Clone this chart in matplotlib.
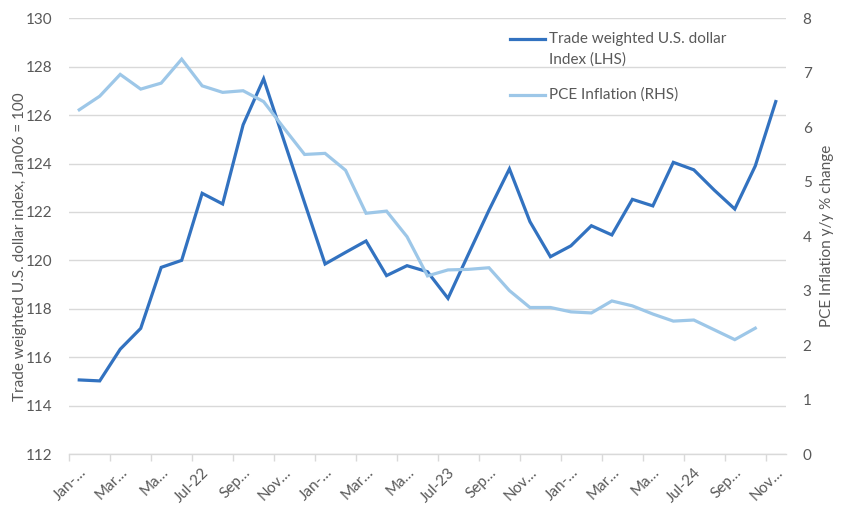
import matplotlib
matplotlib.use("Agg")
import matplotlib.pyplot as plt
from matplotlib.lines import Line2D
import numpy as np

plt.rcParams['font.family'] = ['Lato', 'DejaVu Sans']

months = ["Jan-22", "Feb-22", "Mar-22", "Apr-22", "May-22", "Jun-22", "Jul-22", "Aug-22",
          "Sep-22", "Oct-22", "Nov-22", "Dec-22", "Jan-23", "Feb-23", "Mar-23", "Apr-23",
          "May-23", "Jun-23", "Jul-23", "Aug-23", "Sep-23", "Oct-23", "Nov-23", "Dec-23",
          "Jan-24", "Feb-24", "Mar-24", "Apr-24", "May-24", "Jun-24", "Jul-24", "Aug-24",
          "Sep-24", "Oct-24", "Nov-24"]

dollar_index = [115.06, 115.02, 116.33, 117.19, 119.71, 120.0, 122.77, 122.33,
                125.6, 127.5, 124.93, 122.38, 119.85, 120.33, 120.8, 119.37,
                119.78, 119.53, 118.43, 120.26, 122.07, 123.78, 121.6, 120.15,
                120.6, 121.43, 121.05, 122.52, 122.25, 124.05, 123.74, 122.9,
                122.12, 123.9, 126.56]

pce_inflation = [6.32, 6.57, 6.97, 6.70, 6.81, 7.25, 6.76, 6.64,
                 6.67, 6.47, 5.98, 5.50, 5.52, 5.21, 4.42, 4.46,
                 3.99, 3.27, 3.38, 3.39, 3.42, 3.00, 2.69, 2.69,
                 2.61, 2.59, 2.81, 2.72, 2.57, 2.44, 2.46, 2.28,
                 2.10, 2.31]

tick_labels = ["Jan-…", "Mar…", "Ma…", "Jul-22", "Sep…", "Nov…",
               "Jan-…", "Mar…", "Ma…", "Jul-23", "Sep…", "Nov…",
               "Jan-…", "Mar…", "Ma…", "Jul-24", "Sep…", "Nov…"]

dark = "#3272C0"
light = "#9DC7E8"
txt = "#595959"
grid = "#D9D9D9"

fig = plt.figure(figsize=(8.43, 5.18), dpi=100)
ax = fig.add_axes([69/843, 1-454/518, (786-69)/843, (454-18.3)/518])
ax2 = ax.twinx()

x = np.arange(len(months))
ax.plot(x, dollar_index, color=dark, lw=2.3, solid_joinstyle='miter', zorder=3)
ax2.plot(np.arange(len(pce_inflation)), pce_inflation, color=light, lw=2.3,
         solid_joinstyle='miter', zorder=3)

ax.set_xlim(-0.5, len(months)-0.5)
ax.set_ylim(112, 130)
ax.set_yticks(np.arange(112, 131, 2))
ax2.set_ylim(0, 8)
ax2.set_yticks(np.arange(0, 9, 1))

ax.yaxis.grid(True, color=grid, lw=1.0)
ax.set_axisbelow(True)

for a in (ax, ax2):
    for s in a.spines.values():
        s.set_visible(False)
ax.spines['bottom'].set_visible(True)
ax.spines['bottom'].set_color(grid)
ax.spines['bottom'].set_linewidth(1.0)

# x ticks: labels at every other month centre, tick marks at category boundaries
ax.set_xticks(x[::2])
ax.set_xticklabels(tick_labels, rotation=45, ha='right', rotation_mode='anchor',
                   fontsize=11, color=txt)
ax.tick_params(axis='x', which='major', length=0, pad=8)
ax.set_xticks(np.arange(-0.5, len(months), 2), minor=True)
ax.tick_params(axis='x', which='minor', length=5, color=grid, width=1.0)

ax.tick_params(axis='y', length=0, labelsize=11, labelcolor=txt, pad=12)
ax2.tick_params(axis='y', length=0, labelsize=11, labelcolor=txt, pad=12)

ax.set_ylabel("Trade weighted U.S. dollar index, Jan06 = 100", fontsize=11, color=txt, labelpad=-1)
ax.yaxis.label.set_y(0.475)
ax2.set_ylabel("PCE Inflation y/y % change", fontsize=11, color=txt, labelpad=6)

# legend (drawn manually to align handle with first text line)
def fx(px):
    return px / 843
def fy(py):
    return 1 - py / 518

fig.add_artist(Line2D([fx(510), fx(545)], [fy(39), fy(39)], color=dark, lw=2.3))
fig.text(fx(549), fy(39), "Trade weighted U.S. dollar", fontsize=11, color=txt, va='center')
fig.text(fx(549), fy(60), "Index (LHS)", fontsize=11, color=txt, va='center')
fig.add_artist(Line2D([fx(510), fx(545)], [fy(95), fy(95)], color=light, lw=2.3))
fig.text(fx(549), fy(95), "PCE Inflation (RHS)", fontsize=11, color=txt, va='center')

fig.savefig("out.png", dpi=100, facecolor='white')
